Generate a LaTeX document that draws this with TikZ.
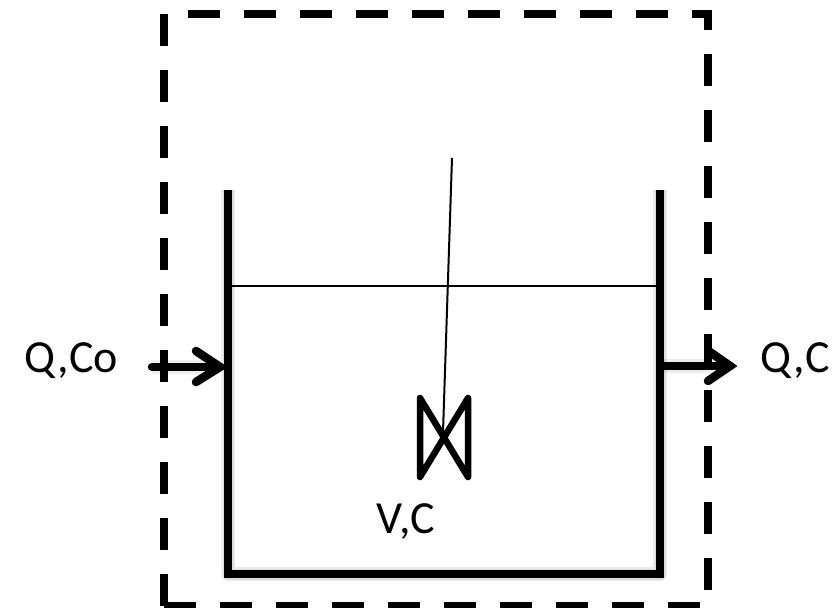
\documentclass[tikz,border=0pt]{standalone}
\usepackage{fontspec}
\setmainfont{Carlito}
\begin{document}
\begin{tikzpicture}[x=1pt,y=-1pt,
  frameline/.style={line width=8pt,dash pattern=on 32pt off 24pt},
  wall/.style={line width=8pt,line join=miter},
  soft/.style={draw=black,opacity=0.07,line join=round},
  thin line/.style={line width=2pt},
  mixer/.style={line width=6.5pt,line join=round,line cap=round},
  flow/.style={line width=8.5pt,line cap=round,line join=miter},
  lbl/.style={font=\fontsize{46pt}{46pt}\selectfont,inner sep=0pt,anchor=base}]
\useasboundingbox (0,0) rectangle (833,608);
\clip (0,0) rectangle (833,608);
\coordinate (tl) at (164,14); \coordinate (tr) at (708,14);
\coordinate (bl) at (164,606); \coordinate (br) at (708,606);
\coordinate (wl) at (228,190); \coordinate (wr) at (660,190);
\coordinate (fl) at (228,574); \coordinate (fr) at (660,574);
\coordinate (a0) at (152,367); \coordinate (a1) at (220,367);
\coordinate (b0) at (663,366); \coordinate (b1) at (730,366);
\draw[soft,line width=14pt,shift={(2,3)}] (wl) -- (fl) -- (fr) -- (wr);
\draw[soft,line width=11pt,shift={(2,3)}] (wl) -- (fl) -- (fr) -- (wr);
\draw[soft,line width=14pt,shift={(2,3)}] (a0) -- (a1);
\draw[soft,line width=14pt,shift={(2,3)}] (b0) -- (b1);
\draw[frameline] (tl) -- (bl);
\draw[frameline] (bl) -- (br);
\draw[frameline] (188,14) -- (712,14);
\draw[frameline,dash phase=16pt] (tr) -- (br);
\draw[wall] (wl) -- (fl) -- (fr) -- (wr);
\coordinate (sl) at (232,286); \coordinate (sr) at (656,286);
\draw[thin line] (sl) -- (sr);
\coordinate (s0) at (452,158); \coordinate (s1) at (443,432);
\draw[thin line] (s0) -- (s1);
\draw[mixer] (420,398) -- (420,477) -- (468,398) -- (468,477) -- cycle;
\draw[flow] (a0) -- (a1);
\draw[flow] (196,351) -- (a1) -- (196,382);
\draw[flow] (b0) -- (b1);
\draw[flow] (710,352) -- (b1) -- (708,381);
\node[lbl] (qco) at (71,372) {Q,Co};
\node[lbl] (qc) at (795,372) {Q,C};
\node[lbl] (vc) at (406,533) {V,C};
\end{tikzpicture}
\end{document}
